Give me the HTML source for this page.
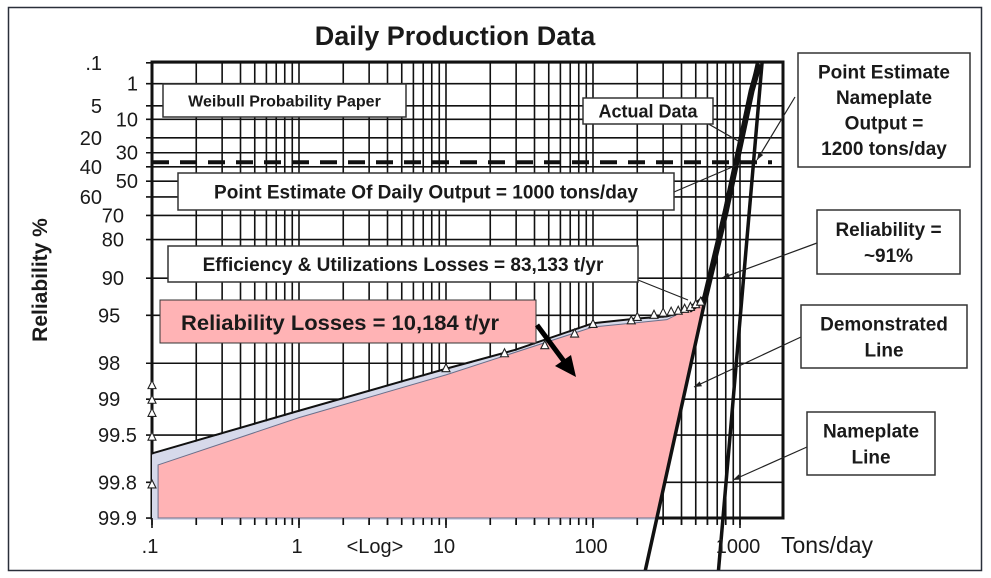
<!DOCTYPE html>
<html><head><meta charset="utf-8"><style>
html,body{margin:0;padding:0;background:#fff}
svg{display:block}
text{font-family:"Liberation Sans",Arial,sans-serif;fill:#1a1a1a}
.b{font-weight:bold}
</style></head><body>
<svg id="chart" width="991" height="578" viewBox="0 0 991 578" xmlns="http://www.w3.org/2000/svg">
<defs><clipPath id="frameClip"><rect x="9" y="8" width="972" height="562"/></clipPath></defs>
<rect x="8.5" y="7.5" width="973" height="563" fill="#fff" stroke="#2a2f3a" stroke-width="1.5"/>
<text x="455" y="45" text-anchor="middle" class="b" font-size="27">Daily Production Data</text>
<g id="grid"></g>
<g id="fillLayer"></g>
<g id="lines" clip-path="url(#frameClip)"></g>
<g id="pts"></g>
<g id="labels"></g>
<text transform="translate(47,280) rotate(-90)" text-anchor="middle" class="b" font-size="21">Reliability %</text>
<text x="781" y="553" font-size="23">Tons/day</text>
<text x="375" y="553" text-anchor="middle" font-size="20">&lt;Log&gt;</text>
<g id="callouts"></g>
</svg>
<script>
// ---- data ----
const yTicks = [0.1,1,5,10,20,30,40,50,60,70,80,90,95,98,99,99.5,99.8,99.9];
const yTickLabels = [".1","1","5","10","20","30","40","50","60","70","80","90","95","98","99","99.5","99.8","99.9"];
const xTicks = [0.1,1,10,100,1000];
const xTickLabels = [".1","1","10","100","1000"];
const curveTons = [0.1,1,10,30,100,200,318,450,578,800,1000,1200,1350];
const curveRel = [99.65,99.2,98.2,97.4,95.7,95.3,95.1,94.5,93.1,68,25,1.8,0.12];
const ptTons = [0.1,0.1,0.1,0.1,0.1,10,25,47,75,100,182,200,260,300,340,380,420,460,500,540];
const ptRel = [98.7,99.02,99.24,99.52,99.81,98.2,97.6,97.2,96.5,95.8,95.5,95.2,95.0,94.8,94.7,94.6,94.4,94.2,93.9,93.6];
const demoLine = {tons:[272,1316], rel:[99.9,0.1]};
const nameLine = {tons:[766,1413], rel:[99.9,0.1]};
const fillTons = [0.11,1,10,100,318,578,276,0.11];
const fillRel = [99.72,99.3,98.4,96.0,95.4,93.4,99.9,99.9];

// ---- scales ----
const X0=152, DEC=147, YA=162.3, YB=51.5, TOP=62, BOT=518, RIGHT=783;
function xs(v){return X0+DEC*Math.log10(v/0.1);}
function ys(r){return YA-YB*Math.log(-Math.log(r/100));}
const NS="http://www.w3.org/2000/svg";
function mk(tag,attrs,parent){const e=document.createElementNS(NS,tag);for(const k in attrs)e.setAttribute(k,attrs[k]);parent.appendChild(e);return e;}

const grid=document.getElementById('grid');
for(let d=0.1; d<2000; d*=10){
  for(let m=1;m<10;m++){
    const v=d*m; const x=xs(v); if(x>RIGHT-2) break;
    const l=mk('line',{x1:x,y1:TOP,x2:x,y2:BOT+7,stroke:'#111','stroke-width':1.6},grid);
    
    
  }
}
yTicks.forEach(r=>{
  const y=ys(r);
  const l=mk('line',{x1:X0-6,y1:y,x2:RIGHT,y2:y,stroke:'#111','stroke-width':1.6},grid);
  
  
});
const border=mk('rect',{x:X0,y:TOP,width:RIGHT-X0,height:BOT-TOP,fill:'none',stroke:'#111','stroke-width':3},grid);


const dash=mk('line',{x1:X0,y1:ys(36.79),x2:772,y2:ys(36.79),stroke:'#111','stroke-width':4,'stroke-dasharray':'17,11'},grid);



const fl=document.getElementById('fillLayer');
const band=mk('polygon',{points:curveTons.slice(0,9).map((t,i)=>xs(t)+','+(ys(curveRel[i])+1)).join(' ')+' '+xs(276)+','+(ys(99.9)+2)+' '+xs(0.1)+','+(ys(99.9)+2),fill:'#d6d9ea',stroke:'none'},fl);


const pink=mk('polygon',{points:fillTons.map((t,i)=>xs(t)+','+ys(fillRel[i])).join(' '),fill:'#ffb3b5',stroke:'#6a6f8a','stroke-width':1},fl);



const lines=document.getElementById('lines');
function lineThrough(o,name,w){
  const x1=xs(o.tons[0]),y1=ys(o.rel[0]),x2=xs(o.tons[1]),y2=ys(o.rel[1]);
  const s=(x2-x1)/(y2-y1);
  const l=mk('line',{x1:x1+s*(575-y1),y1:575,x2:x2,y2:y2,stroke:'#111','stroke-width':w},lines);
  
  
}
lineThrough(demoLine,'demonstrated-line',3.5);
lineThrough(nameLine,'nameplate-line',3.5);
const cv=mk('polyline',{points:curveTons.map((t,i)=>xs(t)+','+ys(curveRel[i])).join(' '),fill:'none',stroke:'#111','stroke-width':2},lines);


const thick=mk('polyline',{points:curveTons.slice(7).map((t,i)=>xs(t)+','+ys(curveRel[i+7])).join(' '),fill:'none',stroke:'#111','stroke-width':6},lines);



const pts=document.getElementById('pts');
ptTons.forEach((t,i)=>{
  const x=xs(t),y=ys(ptRel[i]);
  const p=mk('polygon',{points:`${x},${y-5} ${x-4},${y+3} ${x+4},${y+3}`,fill:'#fff',stroke:'#222','stroke-width':1.1},pts);
  
  
});
for(let d=0.1; d<2000; d*=10){for(let m=1;m<10;m++){const x=xs(d*m); if(x>RIGHT) break;
  const tk=mk('line',{x1:x,y1:BOT,x2:x,y2:BOT+(m===1?10:7),stroke:'#111','stroke-width':1.6},pts);
  
  }}

const lab=document.getElementById('labels');
const leftCol=[".1","5","20","40","60"], rightCol=["1","10","30","50"], midCol=["70","80","90"];
yTicks.forEach((r,i)=>{
  const s=yTickLabels[i]; let x, anchor='end';
  if(leftCol.includes(s)) x=102; else if(rightCol.includes(s)) x=138; else if(midCol.includes(s)) x=124; else {x=98; anchor='start';}
  const t=mk('text',{x:x,y:ys(r)+7,'text-anchor':anchor,'font-size':20},lab);
  t.textContent=s;
  
  
});
xTicks.forEach((v,i)=>{
  const t=mk('text',{x:xs(v)-2,y:553,'text-anchor':'middle','font-size':20},lab);
  t.textContent=xTickLabels[i];
  
  
});

const co=document.getElementById('callouts');
function box(x,y,w,h,linesTxt,name,fs,lh,lead){
  const g=mk('g',{},co);
  
  
  if(lead){mk('line',{x1:lead[0],y1:lead[1],x2:lead[2],y2:lead[3],stroke:'#222','stroke-width':1.2},g);
    if(lead[4]){const a=Math.atan2(lead[3]-lead[1],lead[2]-lead[0]),L=8;
      mk('polygon',{points:`${lead[2]},${lead[3]} ${lead[2]-L*Math.cos(a-0.35)},${lead[3]-L*Math.sin(a-0.35)} ${lead[2]-L*Math.cos(a+0.35)},${lead[3]-L*Math.sin(a+0.35)}`,fill:'#222'},g);}}
  mk('rect',{x:x,y:y,width:w,height:h,fill:'#fff',stroke:'#333','stroke-width':1.5},g);
  const n=linesTxt.length, start=y+h/2-lh*(n-1)/2;
  linesTxt.forEach((s,i)=>{const t=mk('text',{x:x+w/2,y:start+lh*i+fs*0.36,'text-anchor':'middle','font-size':fs,class:'b'},g);t.textContent=s;});
}
box(163,84,243,33,["Weibull Probability Paper"],'weibull-label',16,0);
box(583,98,130,26,["Actual Data"],'actual-data-callout',18,0,[705,122,740,142]);
box(178,173,496,37,["Point Estimate Of Daily Output = 1000 tons/day"],'daily-output-callout',19,0,[674,192,737,165]);
box(168,246,470,36,["Efficiency & Utilizations Losses = 83,133 t/yr"],'efficiency-losses-callout',19,0,[638,280,688,300]);
box(798,53,172,114,["Point Estimate","Nameplate","Output =","1200 tons/day"],'nameplate-output-callout',19,25.5,[795,97,757,160,1]);
box(817,210,143,64,["Reliability =","~91%"],'reliability-callout',19,26,[817,243,722,278,1]);
box(801,305,166,63,["Demonstrated","Line"],'demonstrated-line-callout',19,26,[801,337,694,387,1]);
box(807,412,128,63,["Nameplate","Line"],'nameplate-line-callout',19,26,[807,447,733,480,1]);
const pg=mk('g',{},co);


mk('rect',{x:160,y:300,width:376,height:43,fill:'#ffb3b5',stroke:'#333','stroke-width':1},pg);
const pt=mk('text',{x:181,y:330,'font-size':21,class:'b',textLength:318,lengthAdjust:'spacingAndGlyphs',fill:'#000'},pg);
pt.textContent='Reliability Losses = 10,184 t/yr';
mk('line',{x1:537,y1:325,x2:566,y2:364,stroke:'#000','stroke-width':5},pg);
mk('polygon',{points:'576,377 555,366 571,355',fill:'#000'},pg);
</script>
</body></html>
